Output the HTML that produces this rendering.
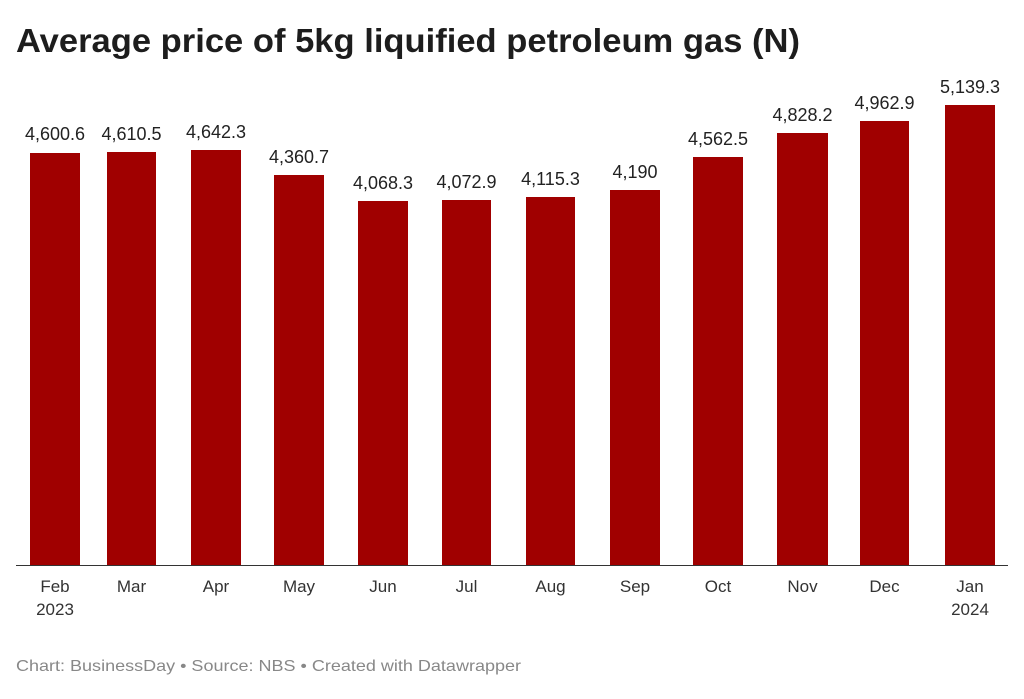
<!DOCTYPE html>
<html><head><meta charset="utf-8"><style>
body{margin:0;background:#fff;width:1024px;height:694px;overflow:hidden;font-family:"Liberation Sans",sans-serif;}
</style></head><body>
<svg width="1024" height="694" xmlns="http://www.w3.org/2000/svg" font-family="Liberation Sans, sans-serif">
<text x="16" y="52" font-size="33" font-weight="bold" fill="#1d1d1d" textLength="784" lengthAdjust="spacingAndGlyphs">Average price of 5kg liquified petroleum gas (N)</text>
<g fill="#a00000">
<rect x="30" y="153" width="50" height="412"/>
<rect x="107" y="152" width="49" height="413"/>
<rect x="191" y="150" width="50" height="415"/>
<rect x="274" y="175" width="50" height="390"/>
<rect x="358" y="201" width="50" height="364"/>
<rect x="442" y="200" width="49" height="365"/>
<rect x="526" y="197" width="49" height="368"/>
<rect x="610" y="190" width="50" height="375"/>
<rect x="693" y="157" width="50" height="408"/>
<rect x="777" y="133" width="51" height="432"/>
<rect x="860" y="121" width="49" height="444"/>
<rect x="945" y="105" width="50" height="460"/>
</g>
<line x1="16" y1="565.5" x2="1008" y2="565.5" stroke="#333" stroke-width="1"/>
<g font-size="18" fill="#222" text-anchor="middle">
<text x="55" y="140">4,600.6</text>
<text x="131.5" y="140">4,610.5</text>
<text x="216" y="138">4,642.3</text>
<text x="299" y="163">4,360.7</text>
<text x="383" y="189">4,068.3</text>
<text x="466.5" y="188">4,072.9</text>
<text x="550.5" y="185">4,115.3</text>
<text x="635" y="178">4,190</text>
<text x="718" y="145">4,562.5</text>
<text x="802.5" y="121">4,828.2</text>
<text x="884.5" y="109">4,962.9</text>
<text x="970" y="93">5,139.3</text>
</g>
<g font-size="17" fill="#333" text-anchor="middle">
<text x="55" y="592">Feb</text><text x="55" y="615">2023</text>
<text x="131.5" y="592">Mar</text>
<text x="216" y="592">Apr</text>
<text x="299" y="592">May</text>
<text x="383" y="592">Jun</text>
<text x="466.5" y="592">Jul</text>
<text x="550.5" y="592">Aug</text>
<text x="635" y="592">Sep</text>
<text x="718" y="592">Oct</text>
<text x="802.5" y="592">Nov</text>
<text x="884.5" y="592">Dec</text>
<text x="970" y="592">Jan</text><text x="970" y="615">2024</text>
</g>
<text x="16" y="671" font-size="16" fill="#888" textLength="505" lengthAdjust="spacingAndGlyphs">Chart: BusinessDay • Source: NBS • Created with Datawrapper</text>
</svg>
</body></html>
